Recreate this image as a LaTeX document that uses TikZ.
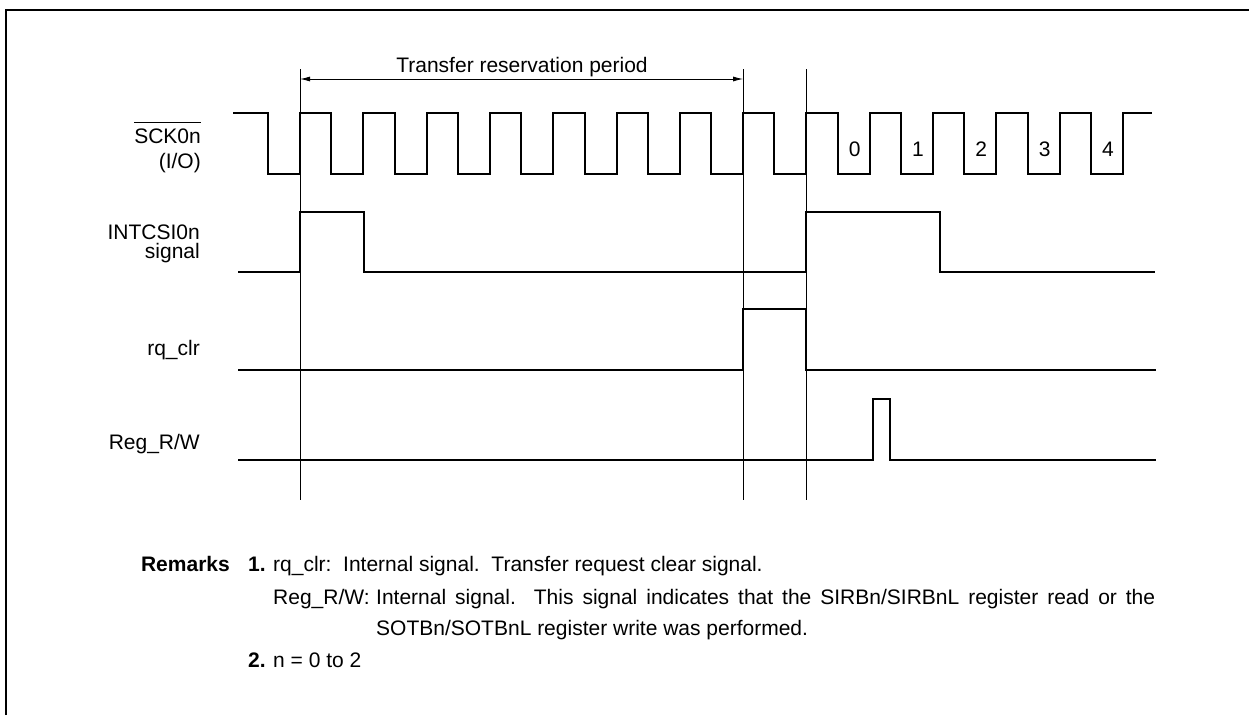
\documentclass[tikz,border=0pt]{standalone}
\usepackage{fontspec}
\setmainfont{Liberation Sans}
\usetikzlibrary{arrows.meta}
\begin{document}
\begin{tikzpicture}[x=1pt,y=-1pt,
  sig/.style={line width=2pt, line join=miter},
  guide/.style={line width=0.8pt},
  lbl/.style={inner sep=0pt, font=\fontsize{21}{25}\selectfont},
  lblb/.style={inner sep=0pt, font=\fontsize{21}{25}\selectfont\bfseries},
  dimarrow/.style={line width=0.9pt, {Latex[length=10pt,width=5pt]}-{Latex[length=10pt,width=5pt]}}
  ]
\useasboundingbox (0,0) rectangle (1249,715);
% frame
\draw[line width=2.5pt] (6,715) -- (6,10) -- (1249,10);

% guide lines
\coordinate (g1t) at (300,69);  \coordinate (g1b) at (300,500);
\coordinate (g2t) at (743.1,69);  \coordinate (g2b) at (743.1,500);
\coordinate (g3t) at (806.4,69);  \coordinate (g3b) at (806.4,500);
\draw[guide] (g1t) -- (g1b);
\draw[guide] (g2t) -- (g2b);
\draw[guide] (g3t) -- (g3b);

% transfer reservation period
\coordinate (a1) at (300,79);
\coordinate (a2) at (743.1,79);
\draw[dimarrow] (a1) -- (a2);
\node[lbl, anchor=base] (trp) at (522,72) {Transfer reservation period};

% SCK0n
\node[lbl, anchor=base east] (sck) at (201,143) {SCK0n};
\draw[line width=1pt] ([yshift=6pt]sck.north west) -- ([yshift=6pt]sck.north east);
\node[lbl, anchor=base east] (io) at (201,168) {(I/O)};
\draw[sig] (233,113) foreach \k in {0,...,13} {
   -- ({268+63.3*\k},113) -- ({268+63.3*\k},174) -- ({300+63.3*\k},174) -- ({300+63.3*\k},113) } -- (1152,113);
\foreach \k in {9,...,13} {
  \pgfmathtruncatemacro{\d}{\k-9}
  \node[lbl, anchor=base] (bit\d) at ({285+63.3*\k},156) {\d};
}

% INTCSI0n
\node[lbl, anchor=base east] (int1) at (200,239) {INTCSI0n};
\node[lbl, anchor=base east] (int2) at (200,258) {signal};
\draw[sig] (238,272) -- (300,272) -- (300,212) -- (364,212) -- (364,272) -- (806.4,272) -- (806.4,212) -- (940,212) -- (940,272) -- (1155,272);

% rq_clr
\node[lbl, anchor=base east] (rq) at (200,355) {rq\_clr};
\draw[sig] (238,370) -- (743.1,370) -- (743.1,309) -- (806.4,309) -- (806.4,370) -- (1156,370);

% Reg_R/W
\node[lbl, anchor=base east] (reg) at (200,449) {Reg\_R/W};
\draw[sig] (238,460) -- (873,460) -- (873,399) -- (890,399) -- (890,460) -- (1156,460);

% remarks
\node[lblb, anchor=base east] (rem) at (230,571) {Remarks};
\node[lblb, anchor=base west] (n1) at (248,571) {1.};
\node[lbl, anchor=base west] (r1) at (273,571) {rq\_clr:\ \ Internal signal.\ \ Transfer request clear signal.};
\node[lbl, anchor=base west] (r2a) at (273,604) {Reg\_R/W:};
\node[lbl, anchor=base west] (r2b) at (376,604) {\makebox[779pt][s]{Internal signal.\ \ This signal indicates that the SIRBn/SIRBnL register read or the}};
\node[lbl, anchor=base west] (r3) at (376,635) {SOTBn/SOTBnL register write was performed.};
\node[lblb, anchor=base west] (n2) at (248,667) {2.};
\node[lbl, anchor=base west] (r4) at (273,667) {n = 0 to 2};
\end{tikzpicture}
\end{document}
